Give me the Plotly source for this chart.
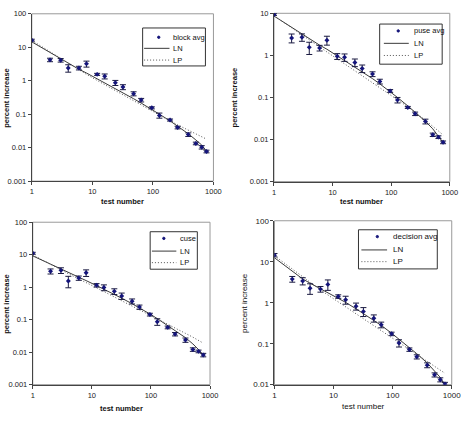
import plotly.graph_objects as go

W, H = 471, 421

# ---------------- data ----------------
test_number = [1, 2, 3, 4, 6, 8, 12, 16, 24, 32, 48, 64, 96, 128, 192, 256, 384, 512, 640, 768]

block_avg = [16.3, 4.2, 4.1, 2.4, 2.4, 3.2, 1.55, 1.36, 0.87, 0.65, 0.41, 0.264, 0.155, 0.092, 0.067, 0.040, 0.0246, 0.0134, 0.0103, 0.0077]
block_err = [1.1, 0.5, 0.5, 0.6, 0.3, 0.65, 0.11, 0.23, 0.15, 0.11, 0.057, 0.032, 0.011, 0.016, 0.0047, 0.0036, 0.003, 0.0012, 0.0012, 0.0007]
block_ln = [14.5, 7.0, 4.4, 3.3, 2.2, 1.7, 1.15, 0.87, 0.59, 0.44, 0.29, 0.215, 0.14, 0.10, 0.063, 0.044, 0.026, 0.017, 0.012, 0.0078]
block_lp = [16, 7.3, 4.6, 3.3, 2.1, 1.55, 1.02, 0.76, 0.50, 0.375, 0.25, 0.185, 0.125, 0.094, 0.063, 0.048, 0.033, 0.025, 0.021, 0.018]

puse_avg = [9.4, 2.6, 2.7, 1.55, 1.5, 2.3, 0.95, 0.9, 0.68, 0.49, 0.36, 0.24, 0.143, 0.087, 0.058, 0.041, 0.027, 0.013, 0.0114, 0.0086]
puse_err = [0.5, 0.62, 0.54, 0.5, 0.23, 0.55, 0.15, 0.18, 0.14, 0.1, 0.047, 0.031, 0.011, 0.013, 0.0032, 0.0039, 0.0035, 0.0012, 0.00085, 0.00064]
puse_ln = [8.6, 4.6, 3.2, 2.5, 1.75, 1.4, 0.98, 0.76, 0.53, 0.41, 0.28, 0.21, 0.14, 0.10, 0.063, 0.045, 0.027, 0.018, 0.012, 0.0085]
puse_lp = [8.8, 4.5, 3.0, 2.3, 1.55, 1.2, 0.82, 0.63, 0.43, 0.33, 0.23, 0.175, 0.12, 0.092, 0.06, 0.045, 0.029, 0.021, 0.016, 0.0128]

cuse = [11.1, 3.1, 3.3, 1.56, 1.92, 2.78, 1.15, 0.98, 0.745, 0.54, 0.37, 0.245, 0.144, 0.087, 0.058, 0.036, 0.0237, 0.0121, 0.0106, 0.0082]
cuse_err = [0.78, 0.55, 0.66, 0.6, 0.29, 0.64, 0.14, 0.2, 0.15, 0.12, 0.065, 0.037, 0.014, 0.02, 0.0056, 0.0043, 0.0036, 0.0015, 0.001, 0.001]
cuse_ln = [9.2, 5.2, 3.7, 2.9, 2.05, 1.6, 1.12, 0.87, 0.6, 0.46, 0.31, 0.235, 0.15, 0.108, 0.067, 0.047, 0.028, 0.018, 0.012, 0.0078]
cuse_lp = [9.9, 5.0, 3.4, 2.6, 1.8, 1.4, 0.97, 0.74, 0.5, 0.385, 0.265, 0.2, 0.14, 0.107, 0.073, 0.056, 0.038, 0.029, 0.023, 0.019]

decision_avg = [14.5, 3.77, 3.4, 2.25, 2.15, 2.8, 1.42, 1.18, 0.82, 0.61, 0.42, 0.29, 0.174, 0.104, 0.072, 0.048, 0.030, 0.0174, 0.0132, 0.0104]
decision_err = [1.4, 0.6, 0.68, 0.65, 0.34, 0.8, 0.14, 0.26, 0.16, 0.15, 0.084, 0.046, 0.017, 0.021, 0.0069, 0.0056, 0.0041, 0.002, 0.0015, 0.001]
decision_ln = [12.5, 5.9, 3.8, 3.0, 2.2, 1.8, 1.3, 1.02, 0.71, 0.54, 0.37, 0.28, 0.18, 0.13, 0.08, 0.057, 0.034, 0.022, 0.015, 0.0098]
decision_lp = [14, 6.6, 4.2, 3.1, 2.05, 1.55, 1.05, 0.8, 0.55, 0.42, 0.285, 0.215, 0.145, 0.11, 0.074, 0.056, 0.038, 0.029, 0.023, 0.019]

x_tickvals = [1, 10, 100, 1000]
x_ticktext = ["1", "10", "100", "1000"]
y_tickvals = [0.001, 0.01, 0.1, 1, 10, 100]
y_ticktext = ["0.001", "0.01", "0.1", "1", "10", "100"]

series_names = ["block avg", "puse avg", "cuse", "decision avg"]
x_title = "test number"
y_title = "percent increase"

# ---------------- layout geometry (pixels) ----------------
panels = [
    dict(avg=block_avg, err=block_err, ln=block_ln, lp=block_lp, name=series_names[0],
         box=(30.5, 10, 216.5, 181), yr=[-3, 2], fs=7.5, bold=True,
         ytx=4.5, xty=202,
         leg=dict(box=(144, 24.5, 208.3, 63.3), rows=(34, 45.3, 57.3), l0=145.5, l1=171.5, mk=160.5, tx=173.3)),
    dict(avg=puse_avg, err=puse_err, ln=puse_ln, lp=puse_lp, name=series_names[1],
         box=(278.5, 9.5, 458.5, 181.5), yr=[-3, 1], fs=7.5, bold=True,
         ytx=238.5, xty=202,
         leg=dict(box=(386.7, 20.5, 450.7, 61.5), rows=(27.5, 40.2, 52.6), l0=391, l1=416.5, mk=405.7, tx=419.5)),
    dict(avg=cuse, err=cuse_err, ln=cuse_ln, lp=cuse_lp, name=series_names[2],
         box=(31.5, 223, 213, 389), yr=[-3, 2], fs=7.5, bold=True,
         ytx=4.5, xty=413.3,
         leg=dict(box=(151.7, 232.7, 200, 271), rows=(239.5, 252.5, 264.3), l0=153.5, l1=178.5, mk=165.7, tx=180)),
    dict(avg=decision_avg, err=decision_err, ln=decision_ln, lp=decision_lp, name=series_names[3],
         box=(279, 221.5, 460.5, 389), yr=[-2, 2], fs=8, bold=False,
         ytx=249, xty=411.7,
         leg=dict(box=(365, 230.7, 445.7, 270.7), rows=(237.7, 251.3, 263.3), l0=368, l1=394.3, mk=384.3, tx=398.3)),
]

FONT = "Liberation Sans, Arial, sans-serif"
MARK = "#14147a"
DOT = "1px,2px"

def px(x):
    return x / W

def py(y):
    return 1 - y / H

fig = go.Figure()
shapes = []
annotations = []

for i, p in enumerate(panels, start=1):
    xa = "x" if i == 1 else f"x{i}"
    ya = "y" if i == 1 else f"y{i}"
    l, t, r, b = p["box"]

    fig.add_trace(go.Scatter(
        x=test_number, y=p["ln"], mode="lines", name="LN", showlegend=False,
        line=dict(color="#3a3a3a", width=1), xaxis=xa, yaxis=ya, hoverinfo="skip"))
    fig.add_trace(go.Scatter(
        x=test_number, y=p["lp"], mode="lines", name="LP", showlegend=False,
        line=dict(color="#555555", width=1, dash=DOT), xaxis=xa, yaxis=ya, hoverinfo="skip"))
    fig.add_trace(go.Scatter(
        x=test_number, y=p["avg"], mode="markers", name=p["name"], showlegend=False,
        marker=dict(symbol="diamond", size=3.8, color=MARK),
        error_y=dict(type="data", array=p["err"], visible=True, color="#1a1a40", thickness=1, width=3),
        xaxis=xa, yaxis=ya))

    axfont = dict(family=FONT, size=p["fs"], color="#222222")
    fig.update_layout(**{
        ("xaxis" if i == 1 else f"xaxis{i}"): dict(
            domain=[px(l), px(r)], anchor=ya, type="log", range=[0, 3],
            tickvals=x_tickvals, ticktext=x_ticktext, tickfont=axfont,
            showgrid=False, zeroline=False, showline=True, linecolor="#444444", linewidth=1,
            ticks="outside", ticklen=3, tickcolor="#444444", fixedrange=True),
        ("yaxis" if i == 1 else f"yaxis{i}"): dict(
            domain=[py(b), py(t)], anchor=xa, type="log", range=p["yr"],
            tickvals=y_tickvals, ticktext=y_ticktext, tickfont=axfont,
            showgrid=False, zeroline=False, showline=True, linecolor="#444444", linewidth=1,
            ticks="outside", ticklen=3, tickcolor="#444444", fixedrange=True),
    })

    # plot-area frame (top / right in light gray)
    shapes.append(dict(type="rect", xref=f"{xa} domain", yref=f"{ya} domain",
                       x0=0, x1=1, y0=0, y1=1, line=dict(color="#9a9a9a", width=1), layer="below"))

    weight = "bold" if p["bold"] else "normal"
    tfont = dict(family=FONT, size=p["fs"], color="#111111", weight=weight)
    annotations.append(dict(text=x_title, xref="paper", yref="paper", x=px((l + r) / 2), y=py(p["xty"]),
                            xanchor="center", yanchor="middle", showarrow=False, font=tfont))
    annotations.append(dict(text=y_title, xref="paper", yref="paper", x=px(p["ytx"]), y=py((t + b) / 2),
                            xanchor="center", yanchor="middle", textangle=-90, showarrow=False, font=tfont))

    # legend box
    lg = p["leg"]
    bx0, by0, bx1, by1 = lg["box"]
    shapes.append(dict(type="rect", xref="paper", yref="paper", x0=px(bx0), x1=px(bx1), y0=py(by1), y1=py(by0),
                       line=dict(color="#333333", width=1), fillcolor="white", layer="above"))
    r0, r1, r2 = lg["rows"]
    shapes.append(dict(type="circle", xref="paper", yref="paper", x0=px(lg["mk"] - 1.2), x1=px(lg["mk"] + 1.2),
                       y0=py(r0 + 1.2), y1=py(r0 - 1.2), line=dict(color=MARK, width=1), fillcolor=MARK, layer="above"))
    shapes.append(dict(type="line", xref="paper", yref="paper", x0=px(lg["l0"]), x1=px(lg["l1"]), y0=py(r1), y1=py(r1),
                       line=dict(color="#3a3a3a", width=1), layer="above"))
    shapes.append(dict(type="line", xref="paper", yref="paper", x0=px(lg["l0"]), x1=px(lg["l1"]), y0=py(r2), y1=py(r2),
                       line=dict(color="#555555", width=1, dash=DOT), layer="above"))
    lfont = dict(family=FONT, size=p["fs"], color="#111111")
    for txt, ry in ((p["name"], r0), ("LN", r1), ("LP", r2)):
        annotations.append(dict(text=txt, xref="paper", yref="paper", x=px(lg["tx"]), y=py(ry),
                                xanchor="left", yanchor="middle", showarrow=False, font=lfont))

fig.update_layout(
    width=W, height=H, margin=dict(l=0, r=0, t=0, b=0),
    paper_bgcolor="white", plot_bgcolor="white",
    showlegend=False, shapes=shapes, annotations=annotations,
    font=dict(family=FONT),
)

fig.write_html("out.html")
